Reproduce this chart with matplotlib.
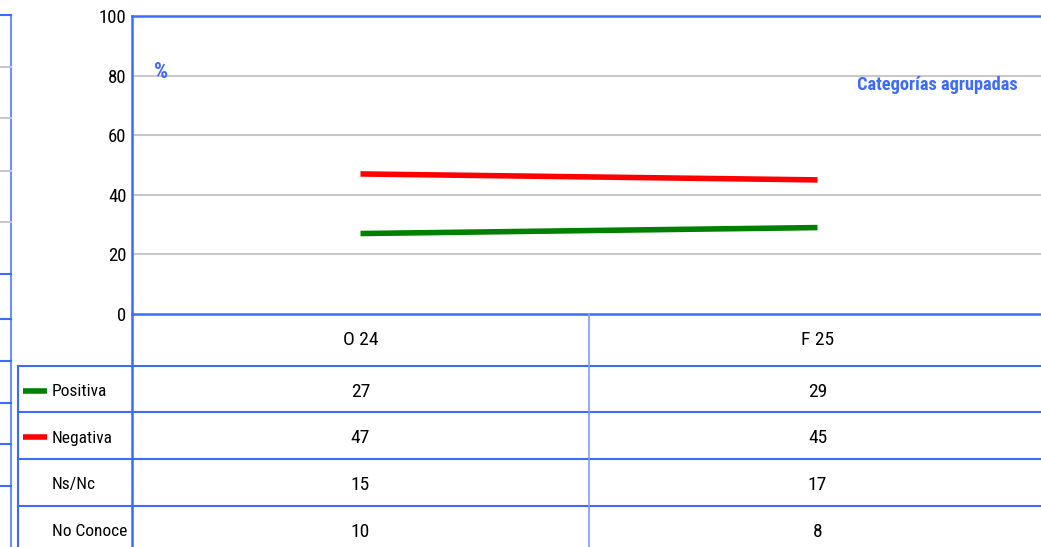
import matplotlib
matplotlib.use("Agg")
import matplotlib.pyplot as plt
from matplotlib.transforms import Affine2D, blended_transform_factory
from matplotlib.lines import Line2D
from matplotlib import font_manager

categories = ["O 24", "F 25"]
row_labels = ["Positiva", "Negativa", "Ns/Nc", "No Conoce"]
positiva = [27, 29]
negativa = [47, 45]
nsnc = [15, 17]
no_conoce = [10, 8]
y_ticks = [0, 20, 40, 60, 80, 100]

rows = [positiva, negativa, nsnc, no_conoce]
line_colors = ["#008000", "#ff0000", None, None]

names = {f.name for f in font_manager.fontManager.ttflist}
FONT = ["Roboto Condensed", "Archivo Narrow", "PT Sans Narrow", "Liberation Sans", "DejaVu Sans"]
FONT = [f for f in FONT if f in names] or ["DejaVu Sans"]
plt.rcParams["font.family"] = FONT

W, H = 1041, 547
BLUE = "#3d6bff"
GRID = "#c8c8c8"
TXT = 14

fig = plt.figure(figsize=(W / 100, H / 100), dpi=100)
px = Affine2D().scale(1 / W, -1 / H).translate(0, 1) + fig.transFigure

left, right, top, bottom = 132, 1046, 16, 314
ax = fig.add_axes([left / W, (H - bottom) / H, (right - left) / W, (bottom - top) / H])
ax.set_xlim(-0.5, 1.5)
ax.set_ylim(0, 100)
ax.set_yticks(y_ticks)
ax.set_yticklabels([str(t) for t in y_ticks], fontsize=13.5)
ax.tick_params(axis="y", length=0, pad=4)
ax.set_xticks([])
for t in y_ticks[1:-1]:
    ax.axhline(t, color=GRID, lw=1.5, zorder=0)
for s in ["left", "top", "bottom"]:
    ax.spines[s].set_color(BLUE)
    ax.spines[s].set_linewidth(1.8)
ax.spines["right"].set_visible(False)

x = list(range(len(categories)))
ax.plot(x, positiva, color="#008000", lw=4, solid_capstyle="butt")
ax.plot(x, negativa, color="#ff0000", lw=4, solid_capstyle="butt")

ax.text(154, 72, "%", transform=px, color=BLUE, fontsize=16, fontweight="bold",
        ha="left", va="center")
ax.text(1018, 85, "Categorías agrupadas", transform=px, color=BLUE, fontsize=13.2,
        fontweight="bold", ha="right", va="center")

# table
row_lines = [366, 412, 459, 506]
col_div = 589
def hline(x0, x1, y, lw=1.5, c=BLUE):
    fig.add_artist(Line2D([x0, x1], [y, y], transform=px, color=c, lw=lw))
def vline(xx, y0, y1, lw=1.5, c=BLUE):
    fig.add_artist(Line2D([xx, xx], [y0, y1], transform=px, color=c, lw=lw))

for yy in row_lines:
    hline(18, W, yy)
vline(18, 366, H)
vline(left, bottom, H, lw=1.8)
vline(col_div, bottom, H, lw=1.2, c="#7f9bff")

bt = blended_transform_factory(ax.transData, px)
for i, c in enumerate(categories):
    ax.text(i, 340, c, transform=bt, ha="center", va="center", fontsize=TXT)

row_centers = [392, 438, 485, 532]
for r, (lab, vals, lc) in enumerate(zip(row_labels, rows, line_colors)):
    yc = row_centers[r]
    if lc:
        fig.add_artist(Line2D([23, 47], [yc - 1, yc - 1], transform=px, color=lc, lw=4,
                              solid_capstyle="butt"))
    fig.text(52, yc, lab, transform=px, ha="left", va="center", fontsize=12.5)
    for i, v in enumerate(vals):
        ax.text(i, yc, str(v), transform=bt, ha="center", va="center", fontsize=TXT)

# neighbouring panel remnant at left edge
vline(11, 15, H, lw=1.5, c="#6f8fff")
hline(0, 11, 15)
for yy in [67, 118, 171, 222]:
    hline(0, 11, yy, c=GRID)
for yy in [274, 319, 361, 403, 444, 486]:
    hline(0, 11, yy)

fig.savefig("out.png", dpi=100)
